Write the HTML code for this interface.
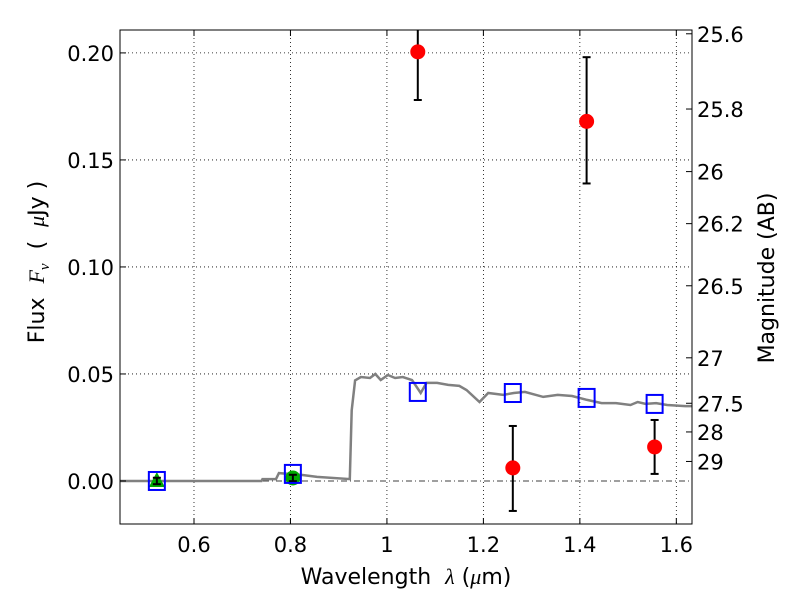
<!DOCTYPE html>
<html><head><meta charset="utf-8"><style>
body{margin:0;background:#fff}
svg text{font-family:"DejaVu Sans","Liberation Sans",sans-serif;fill:#000;white-space:pre}
</style></head><body>
<svg id="chart" width="800" height="600" xmlns="http://www.w3.org/2000/svg">
<rect width="800" height="600" fill="#fff"/>
<g id="grid"></g>
<g id="marks"></g>
<rect x="120" y="30" width="572" height="494" fill="none" stroke="#000" stroke-width="1"/>
<g id="axes"></g>
<text x="406" y="584" font-size="22" text-anchor="middle">Wavelength  <tspan font-family="Liberation Serif" font-style="italic">λ</tspan> (<tspan font-family="Liberation Serif" font-style="italic">μ</tspan>m)</text>
<text transform="translate(44,262) rotate(-90)" font-size="22" text-anchor="middle">Flux  <tspan font-family="Liberation Serif" font-style="italic">F<tspan font-size="15" dy="5">ν</tspan></tspan><tspan dy="-5">  (  </tspan><tspan font-family="Liberation Serif" font-style="italic">μ</tspan>Jy )</text>
<text transform="translate(774,278) rotate(-90)" font-size="22" text-anchor="middle">Magnitude (AB)</text>
</svg>
<script>
const xTicks=[0.6,0.8,1.0,1.2,1.4,1.6];
const xTickLabels=["0.6","0.8","1","1.2","1.4","1.6"];
const yTicks=[0,0.05,0.10,0.15,0.20];
const yTickLabels=["0.00","0.05","0.10","0.15","0.20"];
const magTicks=[25.6,25.8,26,26.2,26.5,27,27.5,28,29];
const magLabels=["25.6","25.8","26","26.2","26.5","27","27.5","28","29"];
const modelWave=[0.447,0.740,0.742,0.770,0.776,0.825,0.855,0.923,0.927,0.934,0.946,0.965,0.976,0.987,1.002,1.017,1.033,1.052,1.070,1.082,1.104,1.127,1.150,1.165,1.192,1.210,1.241,1.263,1.286,1.324,1.354,1.384,1.415,1.445,1.475,1.505,1.520,1.536,1.558,1.581,1.619,1.633];
const modelFlux=[0,0,0.0009,0.0009,0.0037,0.0028,0.0019,0.0009,0.033,0.047,0.0486,0.0481,0.05,0.0472,0.0495,0.0481,0.0486,0.0472,0.0411,0.0458,0.0458,0.0449,0.0444,0.0425,0.0369,0.0411,0.0402,0.0411,0.0416,0.0393,0.0402,0.0397,0.0379,0.0364,0.0364,0.0355,0.0369,0.0360,0.0364,0.0355,0.0350,0.0350];
const modelBandWave=[0.523,0.805,1.064,1.261,1.414,1.555];
const modelBandFlux=[0,0.0033,0.0416,0.0411,0.0388,0.036];
const detWave=[1.064,1.414,1.261,1.555];
const detFlux=[0.2005,0.168,0.0061,0.0159];
const detLo=[0.178,0.139,-0.014,0.0033];
const detHi=[0.223,0.198,0.0257,0.0285];
const hstWave=[0.523,0.805];
const hstFlux=[0.0,0.0014];
const hstErr=[0.0015,0.0015];

const X0=120,X1=692,Y0=524,Y1=30,xmin=0.4466,xmax=1.6325,ymin=-0.0201,ymax=0.2107;
const sx=v=>X0+(v-xmin)/(xmax-xmin)*(X1-X0);
const sy=v=>Y0-(v-ymin)/(ymax-ymin)*(Y0-Y1);
const NS="http://www.w3.org/2000/svg";
function mk(tag,attrs,parent){const e=document.createElementNS(NS,tag);for(const k in attrs)e.setAttribute(k,attrs[k]);parent.appendChild(e);return e;}
const grid=document.getElementById('grid'),marks=document.getElementById('marks'),axes=document.getElementById('axes');

xTicks.forEach((t,i)=>{const x=sx(t);
 const g=mk('line',{x1:x,x2:x,y1:Y1,y2:Y0,stroke:'#000','stroke-width':0.8,'stroke-dasharray':'1,3'},grid);
 
 mk('line',{x1:x,x2:x,y1:Y0,y2:Y0-6,stroke:'#000'},axes);
 mk('line',{x1:x,x2:x,y1:Y1,y2:Y1+6,stroke:'#000'},axes);
 const l=mk('text',{x:x,y:Y0+28,'font-size':21,'text-anchor':'middle'},axes);l.textContent=xTickLabels[i];
 
});
yTicks.forEach((t,i)=>{const y=sy(t);
 const g=mk('line',{x1:X0,x2:X1,y1:y,y2:y,stroke:'#000','stroke-width':0.8,'stroke-dasharray':t===0?'6,3,1,3':'1,3'},grid);
 
 mk('line',{x1:X0,x2:X0+6,y1:y,y2:y,stroke:'#000'},axes);
 const l=mk('text',{x:X0-6,y:y+8,'font-size':21,'text-anchor':'end'},axes);l.textContent=yTickLabels[i];
 
});
magTicks.forEach((m,i)=>{const y=sy(Math.pow(10,(23.9-m)/2.5));
 mk('line',{x1:X1,x2:X1-6,y1:y,y2:y,stroke:'#000'},axes);
 const l=mk('text',{x:X1+5,y:y+8,'font-size':21},axes);l.textContent=magLabels[i];
 
});
const pts=modelWave.map((w,i)=>sx(w).toFixed(1)+','+sy(modelFlux[i]).toFixed(1)).join(' ');
const line=mk('polyline',{points:pts,fill:'none',stroke:'#808080','stroke-width':2.5},marks);


hstWave.forEach((w,i)=>{const x=sx(w),y=sy(hstFlux[i]);
 if(i===0){const t=mk('polygon',{points:`${x},${y-9} ${x-8},${y+6} ${x+8},${y+6}`,fill:'#00aa00'},marks);
  }
 else{const c=mk('circle',{cx:x,cy:y,r:7.5,fill:'#00aa00'},marks);
  }
 const y1=sy(hstFlux[i]-hstErr[i]),y2=sy(hstFlux[i]+hstErr[i]);
 mk('line',{x1:x,x2:x,y1:y1,y2:y2,stroke:'#000','stroke-width':2},marks);
 mk('line',{x1:x-4,x2:x+4,y1:y1,y2:y1,stroke:'#000','stroke-width':2},marks);
 mk('line',{x1:x-4,x2:x+4,y1:y2,y2:y2,stroke:'#000','stroke-width':2},marks);
});
modelBandWave.forEach((w,i)=>{const x=sx(w),y=sy(modelBandFlux[i]);
 const r=mk('rect',{x:x-8,y:y-9,width:16,height:18,fill:'none',stroke:'#0000ff','stroke-width':2},marks);
 
});
const clip=mk('clipPath',{id:'pc'},marks);mk('rect',{x:X0,y:Y1,width:X1-X0,height:Y0-Y1},clip);
detWave.forEach((w,i)=>{const x=sx(w);
 const g=mk('g',{'clip-path':'url(#pc)'},marks);
 
 const y1=sy(detLo[i]),y2=sy(detHi[i]);
 mk('line',{x1:x,x2:x,y1:y1,y2:y2,stroke:'#000','stroke-width':2},g);
 mk('line',{x1:x-4,x2:x+4,y1:y1,y2:y1,stroke:'#000','stroke-width':2},g);
 mk('line',{x1:x-4,x2:x+4,y1:y2,y2:y2,stroke:'#000','stroke-width':2},g);
 mk('circle',{cx:x,cy:sy(detFlux[i]),r:7.5,fill:'#ff0000'},g);
});
</script>
</body></html>
